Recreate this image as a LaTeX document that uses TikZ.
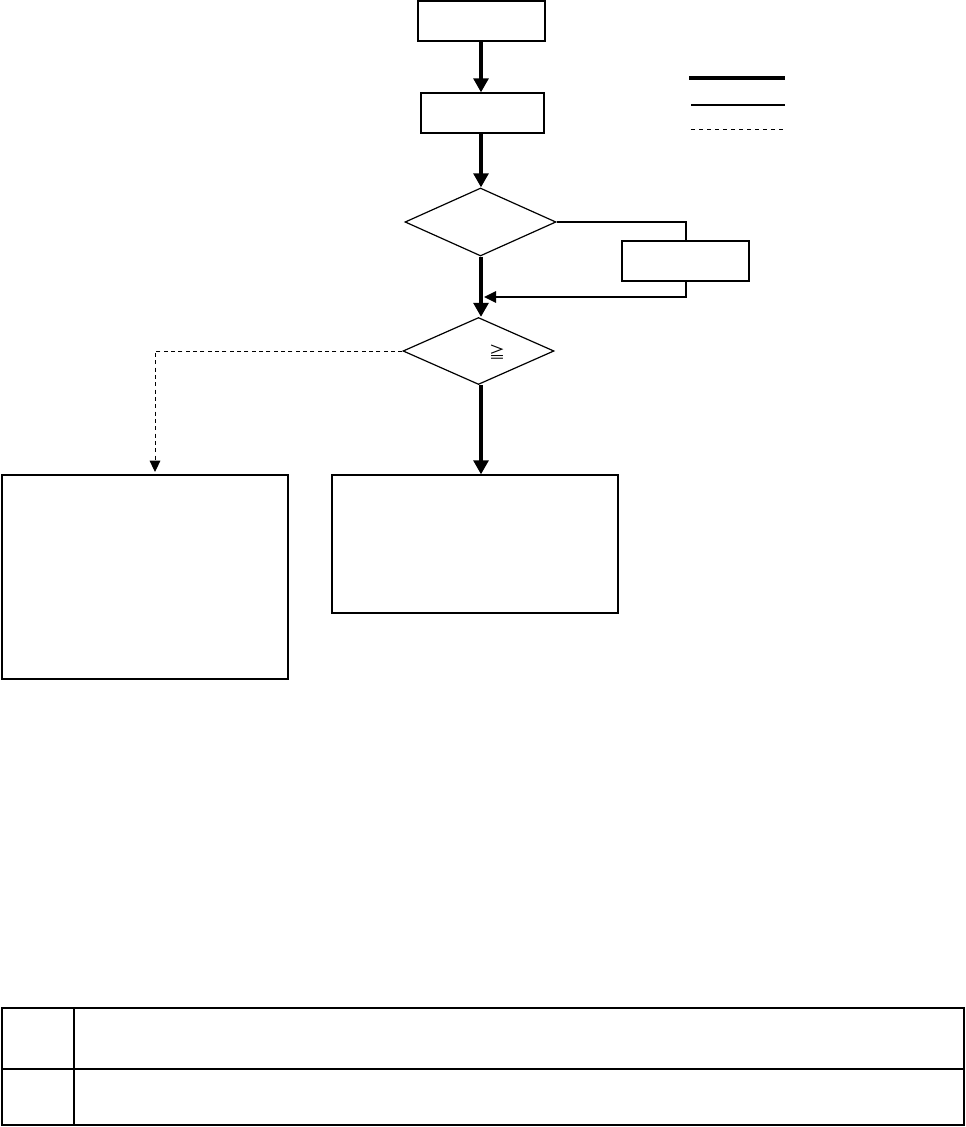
\documentclass[tikz,border=0pt]{standalone}
\usepackage{fontspec}
\newfontfamily\cjkfont{Noto Sans CJK SC}
\usetikzlibrary{shapes.geometric,arrows.meta}
\begin{document}
\begin{tikzpicture}[x=0.75pt,y=-0.75pt,
  boxnode/.style={draw,line width=0.9pt,rectangle,inner sep=0pt},
  decnode/.style={draw,line width=0.9pt,diamond,inner sep=0pt},
  thickflow/.style={line width=3.6pt,-{Triangle[width=11pt,length=10.5pt]}},
  midflow/.style={line width=1.6pt},
  midarrow/.style={line width=1.6pt,-{Triangle[width=8.5pt,length=9pt]}},
  dashflow/.style={line width=0.75pt,dash pattern=on 3pt off 2.5pt,-{Triangle[width=8pt,length=8.5pt]}},
  legthick/.style={line width=3.2pt},
  legmid/.style={line width=1.6pt},
  legdash/.style={line width=0.75pt,dash pattern=on 3pt off 3pt}]
\useasboundingbox (0,0) rectangle (966,1127);
\fill[white] (0,0) rectangle (966,1127);

\node[boxnode,minimum width=95.25pt,minimum height=30pt] (b1) at (481.5,21) {};
\node[boxnode,minimum width=92.25pt,minimum height=30pt] (b2) at (482.5,113) {};
\node[decnode,minimum width=113.25pt,minimum height=51pt] (d1) at (480.5,222) {};
\node[boxnode,minimum width=95.25pt,minimum height=30pt] (b3) at (685.5,261) {};
\node[decnode,minimum width=113.25pt,minimum height=50.25pt] (d2) at (478.5,351) {};
\node[font=\cjkfont\fontsize{12pt}{14pt}\selectfont] (d2t) at (497,352) {≧};
\node[boxnode,minimum width=214.5pt,minimum height=153pt] (lb) at (145,577) {};
\node[boxnode,minimum width=214.5pt,minimum height=103.5pt] (mb) at (475,544) {};

\coordinate (tx) at (481,0);
\coordinate (m1) at (484,297);
\coordinate (b3top) at (686,241);
\coordinate (lbin) at (155,472);

\draw[thickflow] (b1.south -| tx) -- (b2.north -| tx);
\draw[thickflow] (b2.south -| tx) -- (d1.north -| tx);
\draw[midflow] (d1.east) -| (b3top);
\draw[midarrow] (b3.south -| b3top) |- (m1);
\draw[thickflow] (d1.south -| tx) -- (d2.north -| tx);
\draw[thickflow] (d2.south -| tx) -- (mb.north -| tx);
\draw[dashflow] (d2.west) -| (lbin);

% legend
\coordinate (l1a) at (689,78); \coordinate (l1b) at (785,78);
\coordinate (l2a) at (691,105); \coordinate (l2b) at (785,105);
\coordinate (l3a) at (691,130); \coordinate (l3b) at (784,130);
\draw[legthick] (l1a) -- (l1b);
\draw[legmid] (l2a) -- (l2b);
\draw[legdash] (l3a) -- (l3b);

% table
\draw[line width=0.8pt] (2,1069) -- (964,1069);
\draw[line width=0.8pt] (74,1008) -- (74,1125);
\draw[line width=1.5pt] (2,1008) rectangle (964,1125);
\end{tikzpicture}
\end{document}
